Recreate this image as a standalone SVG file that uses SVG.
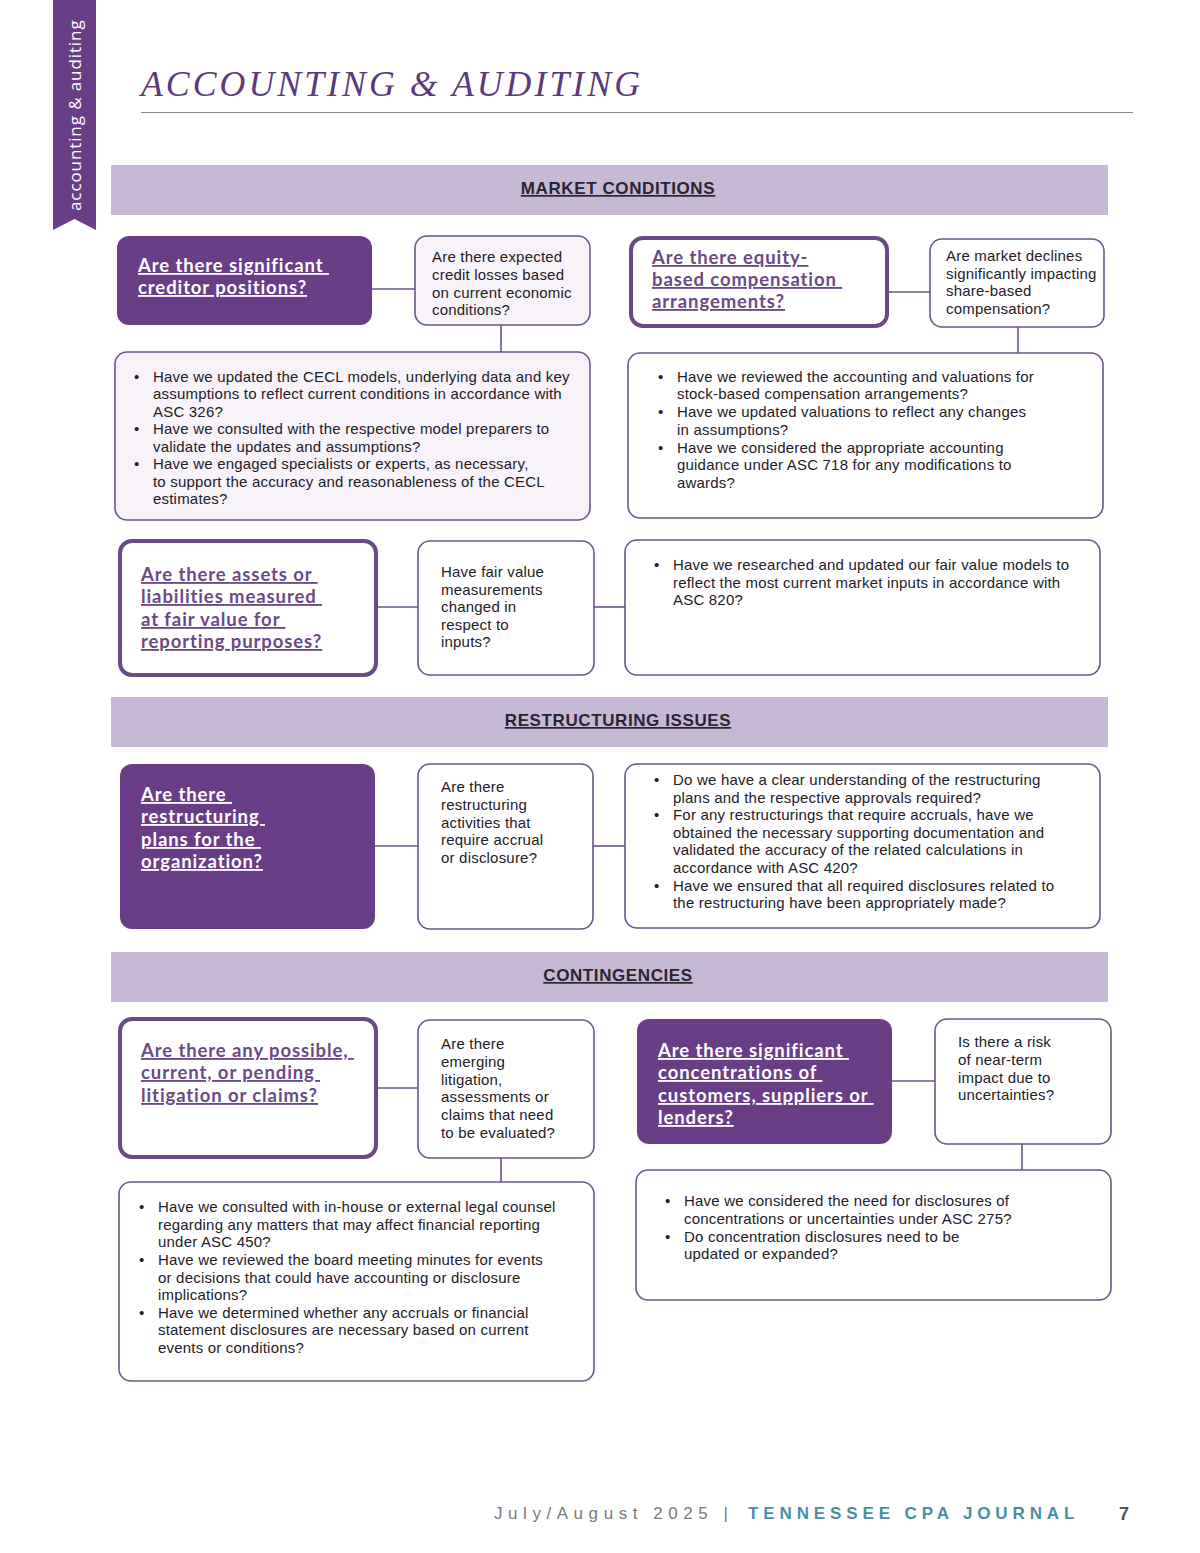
<svg xmlns="http://www.w3.org/2000/svg" width="1200" height="1553" viewBox="0 0 1200 1553">
<style>
.bg{fill:#ffffff}
.tab{fill:#6a3d87}
.tabtxt{font-family:"Open Sans","Liberation Sans",sans-serif;font-size:17px;fill:#ffffff;letter-spacing:0.9px}
.title{font-family:"Liberation Serif",serif;font-style:italic;font-size:35px;fill:#5b3a7c;letter-spacing:3px}
.rule{stroke:#8a8590;stroke-width:1}
.banner{fill:#c6b9d6}
.bantxt{font-family:"Liberation Sans",sans-serif;font-weight:bold;font-size:17px;fill:#2b2433;text-decoration:underline;text-anchor:middle;letter-spacing:0.6px}
.solid{fill:#6a3d87}
.outline{fill:#ffffff;stroke:#6a4a86;stroke-width:4}
.box{fill:#ffffff;stroke:#6f5488;stroke-width:1.6}
.boxl{fill:#f7f3f9;stroke:#6f5488;stroke-width:1.6}
.hw{font-family:Lato,"Liberation Sans",sans-serif;font-weight:bold;font-size:18.5px;fill:#ffffff;text-decoration:underline;letter-spacing:0.9px;white-space:pre}
.hp{font-family:Lato,"Liberation Sans",sans-serif;font-weight:bold;font-size:18.5px;fill:#6a4a86;text-decoration:underline;letter-spacing:0.9px;white-space:pre}
.t{font-family:"Liberation Sans",sans-serif;font-size:15px;fill:#232027;letter-spacing:0.2px}
.conn line{stroke:#6f5488;stroke-width:1.6}
.foot1{font-family:"Liberation Sans",sans-serif;font-size:17px;fill:#7a7a7a;letter-spacing:5px}
.foot2{font-family:"Liberation Sans",sans-serif;font-weight:bold;font-size:17px;fill:#4a8fa1;letter-spacing:5.6px}
.foot3{font-family:"Liberation Sans",sans-serif;font-weight:bold;font-size:18px;fill:#555555}
</style>
<rect class="bg" x="0" y="0" width="1200" height="1553"/>

<g id="side-tab">
<polygon class="tab" points="53,0 96,0 96,230 74.5,219 53,230"/>
<text class="tabtxt" transform="translate(81,211) rotate(-90)">accounting &amp; auditing</text>
</g>

<g id="header">
<text class="title" x="141" y="96" textLength="502" lengthAdjust="spacingAndGlyphs">ACCOUNTING &amp; AUDITING</text>
<line class="rule" x1="141" y1="112.5" x2="1133" y2="112.5"/>
</g>

<g id="banner-market">
<rect class="banner" x="111" y="165" width="997" height="50"/>
<text class="bantxt" x="618" y="194">MARKET CONDITIONS</text>
</g>
<g id="banner-restructuring">
<rect class="banner" x="111" y="697" width="997" height="50"/>
<text class="bantxt" x="618" y="726">RESTRUCTURING ISSUES</text>
</g>
<g id="banner-contingencies">
<rect class="banner" x="111" y="952" width="997" height="50"/>
<text class="bantxt" x="618" y="981">CONTINGENCIES</text>
</g>

<g id="connectors" class="conn">
<line x1="372" y1="289" x2="415" y2="289"/>
<line x1="501" y1="325" x2="501" y2="352"/>
<line x1="887" y1="292" x2="930" y2="292"/>
<line x1="1018" y1="327" x2="1018" y2="353"/>
<line x1="376" y1="607" x2="418" y2="607"/>
<line x1="594" y1="607" x2="625" y2="607"/>
<line x1="375" y1="846" x2="418" y2="846"/>
<line x1="593" y1="846" x2="625" y2="846"/>
<line x1="376" y1="1088" x2="418" y2="1088"/>
<line x1="501" y1="1158" x2="501" y2="1182"/>
<line x1="892" y1="1081" x2="935" y2="1081"/>
<line x1="1022" y1="1144" x2="1022" y2="1170"/>
</g>

<g id="n-creditor">
<rect class="solid" x="117" y="236" width="255" height="89" rx="12"/>
<text class="hw"><tspan x="138" y="272">Are there significant </tspan><tspan x="138" y="294">creditor positions?</tspan></text>
</g>
<g id="n-credit-losses">
<rect class="boxl" x="415" y="236" width="175" height="89" rx="12"/>
<text class="t"><tspan x="432" y="262">Are there expected</tspan><tspan x="432" y="280">credit losses based</tspan><tspan x="432" y="298">on current economic</tspan><tspan x="432" y="315">conditions?</tspan></text>
</g>
<g id="n-cecl">
<rect class="boxl" x="115" y="352" width="475" height="168" rx="12"/>
<text class="t"><tspan x="134" y="382">•</tspan><tspan x="153" y="382">Have we updated the CECL models, underlying data and key</tspan><tspan x="153" y="399">assumptions to reflect current conditions in accordance with</tspan><tspan x="153" y="417">ASC 326?</tspan><tspan x="134" y="434">•</tspan><tspan x="153" y="434">Have we consulted with the respective model preparers to</tspan><tspan x="153" y="452">validate the updates and assumptions?</tspan><tspan x="134" y="469">•</tspan><tspan x="153" y="469">Have we engaged specialists or experts, as necessary,</tspan><tspan x="153" y="487">to support the accuracy and reasonableness of the CECL</tspan><tspan x="153" y="504">estimates?</tspan></text>
</g>

<g id="n-equity">
<rect class="outline" x="631" y="238" width="256" height="88" rx="12"/>
<text class="hp"><tspan x="652" y="264">Are there equity-</tspan><tspan x="652" y="286">based compensation </tspan><tspan x="652" y="308">arrangements?</tspan></text>
</g>
<g id="n-market-declines">
<rect class="box" x="930" y="239" width="174" height="88" rx="12"/>
<text class="t"><tspan x="946" y="261">Are market declines</tspan><tspan x="946" y="279">significantly impacting</tspan><tspan x="946" y="296">share-based</tspan><tspan x="946" y="314">compensation?</tspan></text>
</g>
<g id="n-stock-comp">
<rect class="box" x="628" y="353" width="475" height="165" rx="12"/>
<text class="t"><tspan x="658" y="382">•</tspan><tspan x="677" y="382">Have we reviewed the accounting and valuations for</tspan><tspan x="677" y="399">stock-based compensation arrangements?</tspan><tspan x="658" y="417">•</tspan><tspan x="677" y="417">Have we updated valuations to reflect any changes</tspan><tspan x="677" y="435">in assumptions?</tspan><tspan x="658" y="453">•</tspan><tspan x="677" y="453">Have we considered the appropriate accounting</tspan><tspan x="677" y="470">guidance under ASC 718 for any modifications to</tspan><tspan x="677" y="488">awards?</tspan></text>
</g>

<g id="n-fair-value">
<rect class="outline" x="120" y="541" width="256" height="134" rx="12"/>
<text class="hp"><tspan x="141" y="581">Are there assets or </tspan><tspan x="141" y="603">liabilities measured </tspan><tspan x="141" y="626">at fair value for </tspan><tspan x="141" y="648">reporting purposes?</tspan></text>
</g>
<g id="n-fv-changed">
<rect class="box" x="418" y="541" width="176" height="134" rx="12"/>
<text class="t"><tspan x="441" y="577">Have fair value</tspan><tspan x="441" y="595">measurements</tspan><tspan x="441" y="612">changed in</tspan><tspan x="441" y="630">respect to</tspan><tspan x="441" y="647">inputs?</tspan></text>
</g>
<g id="n-fv-models">
<rect class="box" x="625" y="540" width="475" height="135" rx="12"/>
<text class="t"><tspan x="654" y="570">•</tspan><tspan x="673" y="570">Have we researched and updated our fair value models to</tspan><tspan x="673" y="588">reflect the most current market inputs in accordance with</tspan><tspan x="673" y="605">ASC 820?</tspan></text>
</g>

<g id="n-restructuring">
<rect class="solid" x="120" y="764" width="255" height="165" rx="12"/>
<text class="hw"><tspan x="141" y="801">Are there </tspan><tspan x="141" y="823">restructuring </tspan><tspan x="141" y="846">plans for the </tspan><tspan x="141" y="868">organization?</tspan></text>
</g>
<g id="n-restr-activities">
<rect class="box" x="418" y="764" width="175" height="165" rx="12"/>
<text class="t"><tspan x="441" y="792">Are there</tspan><tspan x="441" y="810">restructuring</tspan><tspan x="441" y="828">activities that</tspan><tspan x="441" y="845">require accrual</tspan><tspan x="441" y="863">or disclosure?</tspan></text>
</g>
<g id="n-restr-checks">
<rect class="box" x="625" y="764" width="475" height="164" rx="12"/>
<text class="t"><tspan x="654" y="785">•</tspan><tspan x="673" y="785">Do we have a clear understanding of the restructuring</tspan><tspan x="673" y="803">plans and the respective approvals required?</tspan><tspan x="654" y="820">•</tspan><tspan x="673" y="820">For any restructurings that require accruals, have we</tspan><tspan x="673" y="838">obtained the necessary supporting documentation and</tspan><tspan x="673" y="855">validated the accuracy of the related calculations in</tspan><tspan x="673" y="873">accordance with ASC 420?</tspan><tspan x="654" y="891">•</tspan><tspan x="673" y="891">Have we ensured that all required disclosures related to</tspan><tspan x="673" y="908">the restructuring have been appropriately made?</tspan></text>
</g>

<g id="n-litigation">
<rect class="outline" x="120" y="1019" width="256" height="138" rx="12"/>
<text class="hp"><tspan x="141" y="1057">Are there any possible, </tspan><tspan x="141" y="1079">current, or pending </tspan><tspan x="141" y="1102">litigation or claims?</tspan></text>
</g>
<g id="n-emerging">
<rect class="box" x="418" y="1020" width="176" height="138" rx="12"/>
<text class="t"><tspan x="441" y="1049">Are there</tspan><tspan x="441" y="1067">emerging</tspan><tspan x="441" y="1085">litigation,</tspan><tspan x="441" y="1102">assessments or</tspan><tspan x="441" y="1120">claims that need</tspan><tspan x="441" y="1138">to be evaluated?</tspan></text>
</g>
<g id="n-legal-checks">
<rect class="box" x="119" y="1182" width="475" height="199" rx="12"/>
<text class="t"><tspan x="139" y="1212">•</tspan><tspan x="158" y="1212">Have we consulted with in-house or external legal counsel</tspan><tspan x="158" y="1230">regarding any matters that may affect financial reporting</tspan><tspan x="158" y="1247">under ASC 450?</tspan><tspan x="139" y="1265">•</tspan><tspan x="158" y="1265">Have we reviewed the board meeting minutes for events</tspan><tspan x="158" y="1283">or decisions that could have accounting or disclosure</tspan><tspan x="158" y="1300">implications?</tspan><tspan x="139" y="1318">•</tspan><tspan x="158" y="1318">Have we determined whether any accruals or financial</tspan><tspan x="158" y="1335">statement disclosures are necessary based on current</tspan><tspan x="158" y="1353">events or conditions?</tspan></text>
</g>

<g id="n-concentrations">
<rect class="solid" x="637" y="1019" width="255" height="125" rx="12"/>
<text class="hw"><tspan x="658" y="1057">Are there significant </tspan><tspan x="658" y="1079">concentrations of </tspan><tspan x="658" y="1102">customers, suppliers or </tspan><tspan x="658" y="1124">lenders?</tspan></text>
</g>
<g id="n-near-term">
<rect class="box" x="935" y="1019" width="176" height="125" rx="12"/>
<text class="t"><tspan x="958" y="1047">Is there a risk</tspan><tspan x="958" y="1065">of near-term</tspan><tspan x="958" y="1083">impact due to</tspan><tspan x="958" y="1100">uncertainties?</tspan></text>
</g>
<g id="n-conc-checks">
<rect class="box" x="636" y="1170" width="475" height="130" rx="12"/>
<text class="t"><tspan x="665" y="1206">•</tspan><tspan x="684" y="1206">Have we considered the need for disclosures of</tspan><tspan x="684" y="1224">concentrations or uncertainties under ASC 275?</tspan><tspan x="665" y="1242">•</tspan><tspan x="684" y="1242">Do concentration disclosures need to be</tspan><tspan x="684" y="1259">updated or expanded?</tspan></text>
</g>

<g id="footer">
<text class="foot1" x="494" y="1519" textLength="239" lengthAdjust="spacing">July/August 2025 |</text>
<text class="foot2" x="748" y="1519" textLength="332" lengthAdjust="spacing">TENNESSEE CPA JOURNAL</text>
<text class="foot3" x="1119" y="1520">7</text>
</g>
</svg>
